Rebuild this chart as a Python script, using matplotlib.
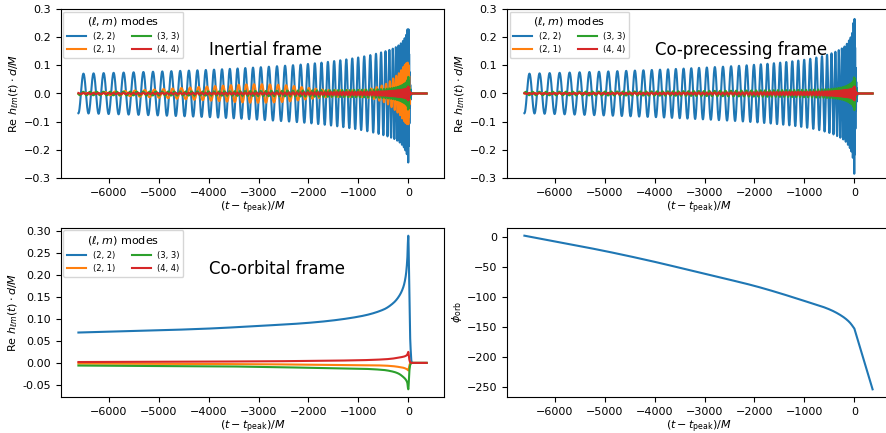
import numpy as np
import matplotlib.pyplot as plt
from matplotlib.ticker import FormatStrFormatter

# ---- values ----
# orbital phase (bottom-right panel)
t_phi = [-6610, -6000, -5000, -4000, -3000, -2000, -1000, -500, -250, -100, 0, 367]
phi_orb = [1.5, -8, -24, -42, -62, -82, -107, -121, -132, -142, -152.5, -254]

# co-orbital frame, Re h_lm (bottom-left panel)
t_amp = [-6610, -5000, -4000, -3000, -2000, -1000, -500, -300, -200, -100, -50, -20, 0, 20, 40, 70, 367]
coorb_22 = [0.069, 0.074, 0.078, 0.084, 0.091, 0.105, 0.121, 0.136, 0.149, 0.172, 0.198, 0.235, 0.289, 0.16, 0.05, 0.0, 0.0]
coorb_21 = [-0.0015, -0.002, -0.0025, -0.003, -0.004, -0.005, -0.006, -0.0075, -0.009, -0.011, -0.013, -0.015, -0.017, -0.006, -0.001, 0.0, 0.0]
coorb_33 = [-0.006, -0.007, -0.0075, -0.009, -0.011, -0.013, -0.016, -0.02, -0.024, -0.032, -0.038, -0.045, -0.060, -0.02, -0.004, 0.0, 0.0]
coorb_44 = [0.002, 0.0025, 0.003, 0.0035, 0.0045, 0.006, 0.008, 0.01, 0.012, 0.014, 0.016, 0.019, 0.025, 0.008, 0.001, 0.0, 0.0]

# (2,2) envelopes in the co-precessing and inertial frames (top panels)
coprec_22 = [0.070, 0.078, 0.084, 0.092, 0.102, 0.12, 0.14, 0.155, 0.166, 0.19, 0.21, 0.24, 0.285, 0.14, 0.04, 0.0, 0.0]
inert_22 = [0.070, 0.078, 0.084, 0.093, 0.105, 0.128, 0.148, 0.16, 0.17, 0.188, 0.205, 0.222, 0.245, 0.12, 0.03, 0.0, 0.0]
# inertial (2,1) envelope (precession leakage)
t_21 = [-6610, -6000, -5000, -4000, -3000, -2500, -2000, -1500, -1000, -500, -200, 0, 40, 367]
inert_21 = [0.002, 0.006, 0.015, 0.025, 0.033, 0.03, 0.02, 0.012, 0.012, 0.03, 0.07, 0.11, 0.0, 0.0]

modes = ["(2, 2)", "(2, 1)", "(3, 3)", "(4, 4)"]
m_vals = [2, 1, 3, 4]
colors = ["#1f77b4", "#ff7f0e", "#2ca02c", "#d62728"]
frame_names = ["Inertial frame", "Co-precessing frame", "Co-orbital frame"]


def pchip(x, xp, yp):
    # monotone cubic Hermite through the read-off points
    xp = np.asarray(xp, float)
    yp = np.asarray(yp, float)
    h = np.diff(xp)
    d = np.diff(yp) / h
    m = np.zeros_like(yp)
    for i in range(1, len(xp) - 1):
        if d[i - 1] * d[i] > 0:
            w1 = 2 * h[i] + h[i - 1]
            w2 = h[i] + 2 * h[i - 1]
            m[i] = (w1 + w2) / (w1 / d[i - 1] + w2 / d[i])
    m[0], m[-1] = d[0], d[-1]
    idx = np.clip(np.searchsorted(xp, x) - 1, 0, len(xp) - 2)
    s = (x - xp[idx]) / h[idx]
    h00 = 2 * s**3 - 3 * s**2 + 1
    h10 = s**3 - 2 * s**2 + s
    h01 = -2 * s**3 + 3 * s**2
    h11 = s**3 - s**2
    return (h00 * yp[idx] + h10 * h[idx] * m[idx]
            + h01 * yp[idx + 1] + h11 * h[idx] * m[idx + 1])


# ---- build the series ----
t = np.linspace(t_phi[0], t_phi[-1], 16000)
# inspiral part smooth, ringdown part straight (kink at the peak)
phi = np.where(t <= 0, pchip(t, t_phi[:-1], phi_orb[:-1]),
               np.interp(t, t_phi, phi_orb))
phase0 = np.pi - 2 * phi_orb[0]

co = {k: pchip(t, t_amp, v) for k, v in
      zip(modes, [coorb_22, coorb_21, coorb_33, coorb_44])}

coprec = {
    "(2, 2)": pchip(t, t_amp, coprec_22) * np.cos(2 * phi + phase0),
    "(2, 1)": co["(2, 1)"] * np.cos(phi),
    "(3, 3)": co["(3, 3)"] * np.cos(3 * phi),
    "(4, 4)": co["(4, 4)"] * np.cos(4 * phi),
}

inertial = {
    "(2, 2)": pchip(t, t_amp, inert_22) * np.cos(2 * phi + phase0),
    "(2, 1)": pchip(t, t_21, inert_21) * np.cos(2 * phi + 1.0),
    "(3, 3)": np.abs(co["(3, 3)"]) * np.cos(3 * phi),
    "(4, 4)": co["(4, 4)"] * np.cos(4 * phi),
}

# ---- plot ----
fig = plt.figure(figsize=(8.86, 4.33), dpi=100)
W, H = 886, 433
def place(x0, y0, x1, y1):
    return fig.add_axes([x0 / W, 1 - y1 / H, (x1 - x0) / W, (y1 - y0) / H])

ax1 = place(61, 9, 444, 178)
ax2 = place(507, 9, 890, 178)
ax3 = place(61, 228, 444, 397)
ax4 = place(507, 228, 890, 397)

ylab = r"Re $h_{\ell m}(t) \cdot d/M$"
xlab = r"$(t - t_{\rm peak})/M$"

for ax, data, name in zip([ax1, ax2, ax3], [inertial, coprec, co], frame_names):
    for k, c in zip(modes, colors):
        ax.plot(t, data[k], color=c, lw=1.5, label=k)
    leg = ax.legend(title=r"$(\ell, m)$ modes", ncol=2, loc="upper left",
                    fontsize=6, title_fontsize=8, borderaxespad=0.3,
                    handlelength=2.3)
    ax.text(-4000, 0.76, name, fontsize=12, va="center", ha="left",
            transform=ax.get_xaxis_transform())
    ax.set_ylabel(ylab, fontsize=8, labelpad=2)

for ax in [ax1, ax2]:
    ax.set_ylim(-0.3, 0.3)
    ax.set_yticks(np.arange(-0.3, 0.31, 0.1))

ax3.set_yticks(np.arange(-0.05, 0.31, 0.05))
ax3.yaxis.set_major_formatter(FormatStrFormatter("%.2f"))

ax4.plot(t, phi, color=colors[0], lw=1.5)
ax4.set_yticks(np.arange(-250, 1, 50))
ax4.set_ylabel(r"$\phi_{\rm orb}$", fontsize=8, labelpad=2)

for ax in [ax1, ax2, ax3, ax4]:
    ax.set_xlabel(xlab, fontsize=8, labelpad=1)
    ax.tick_params(labelsize=8)

fig.savefig("out.png", dpi=100)
